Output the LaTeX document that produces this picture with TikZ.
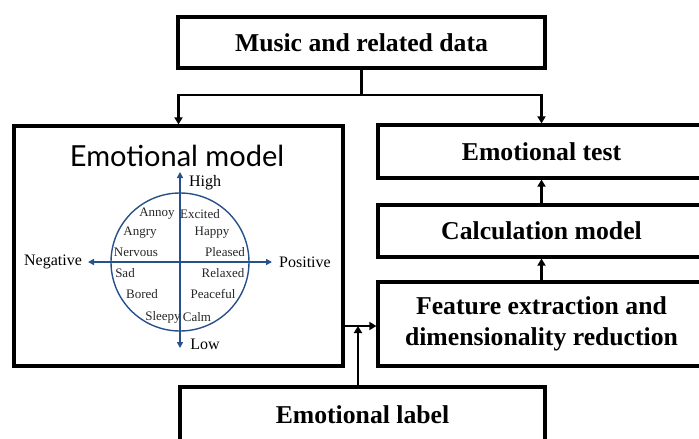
\documentclass[tikz,border=0pt]{standalone}
\usepackage{fontspec}
\setmainfont{Liberation Serif}
\newfontfamily\titlefont{Lato}
\usetikzlibrary{arrows.meta}
\definecolor{axisblue}{RGB}{40,80,140}
\tikzset{
  box/.style={draw=black, line width=3.2pt, inner sep=0pt, font=\fontsize{25.7}{31}\selectfont\bfseries},
  box2/.style={box, align=center},
  conn/.style={draw=black, line width=2.2pt},
  arr/.style={conn, -{Triangle[length=7pt,width=8pt]}},
  axisline/.style={draw=axisblue, line width=1.6pt, {Triangle[length=6pt,width=6pt]}-{Triangle[length=6pt,width=6pt]}},
  axislabel/.style={inner sep=0pt, font=\fontsize{16}{16}\selectfont},
  emo/.style={inner sep=0pt, font=\fontsize{13}{13}\selectfont, text=black!85},
}
\begin{document}
\begin{tikzpicture}[x=1pt,y=-1pt]
\useasboundingbox (0,0) rectangle (699,439);

% boxes
\node[box, minimum width=367pt, minimum height=51pt] (music) at (361.5,42.5) {Music and related data};
\node[box, minimum width=329pt, minimum height=240pt] (model) at (178.5,246) {};
\node[box, minimum width=327pt, minimum height=53pt] (test) at (541.5,151.5) {Emotional test};
\node[box, minimum width=327pt, minimum height=52pt] (calc) at (541.5,231) {Calculation model};
\node[box2, minimum width=327pt, minimum height=84pt] (feat) at (541.5,324) {Feature extraction and\\dimensionality reduction};
\node[box, minimum width=365pt, minimum height=56pt] (label) at (362.5,415) {Emotional label};

% emotional model title
\node[inner sep=0pt, font=\titlefont\fontsize{29}{29}\selectfont] (mtitle) at (177,156) {Emotional model};

% emotional model content
\coordinate (c) at (180,262);
\draw[axisblue, line width=1.4pt] (c) circle[radius=69pt];
\coordinate (hl) at (88,262);
\coordinate (hr) at (272,262);
\coordinate (vt) at (180,172);
\coordinate (vb) at (180,348);
\draw[axisline] (hl) -- (hr);
\draw[axisline] (vt) -- (vb);
\node[axislabel] (high) at (205,183) {High};
\node[axislabel] (low) at (205,344) {Low};
\node[axislabel] (neg) at (53,262) {Negative};
\node[axislabel] (pos) at (305,262) {Positive};

\node[emo] (annoy) at (157,214) {Annoy};
\node[emo] (excited) at (200,214) {Excited};
\node[emo] (angry) at (140,233) {Angry};
\node[emo] (happy) at (212,233) {Happy};
\node[emo] (nervous) at (136,252) {Nervous};
\node[emo] (pleased) at (225,252) {Pleased};
\node[emo] (sad) at (125,273) {Sad};
\node[emo] (relaxed) at (223,273) {Relaxed};
\node[emo] (bored) at (142,294) {Bored};
\node[emo] (peaceful) at (213,294) {Peaceful};
\node[emo] (sleepy) at (163,317) {Sleepy};
\node[emo] (calm) at (197,317) {Calm};

% connectors
\coordinate (j1) at (361.5,95);
\coordinate (j2) at (358,326);
\draw[conn] (music.south) -- (j1);
\draw[arr] (j1) -| (model.north);
\draw[arr] (j1) -| (test.north);
\draw[arr] (calc.north) -- (test.south);
\draw[arr] (feat.north) -- (calc.south);
\draw[arr] (model.east |- j2) -- (feat.west |- j2);
\draw[arr] (label.north -| j2) -- (j2);
\end{tikzpicture}
\end{document}
